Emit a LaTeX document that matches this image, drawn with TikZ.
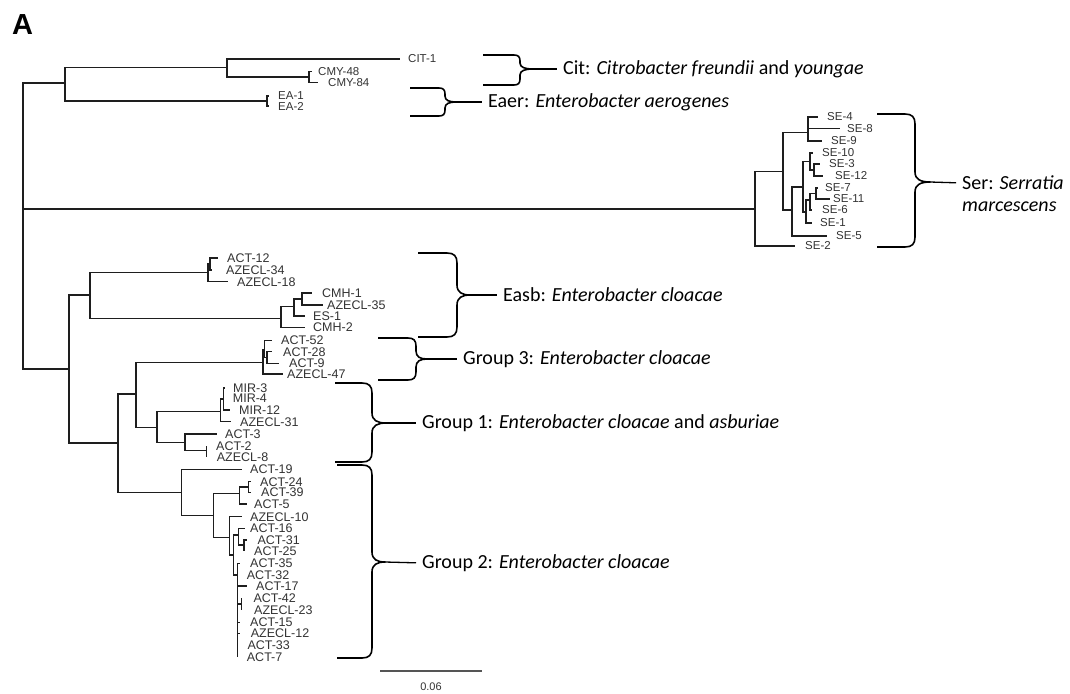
\documentclass[tikz,border=0pt]{standalone}
\usepackage{fontspec}
\setmainfont{Liberation Sans}
\newfontfamily\grpfont{Carlito}
\definecolor{treegray}{HTML}{1E1E1E}
\definecolor{labgray}{HTML}{333333}
\definecolor{scalegray}{HTML}{555555}
\tikzset{
 branch/.style={draw=treegray, line width=1.1pt},
 leaflab/.style={anchor=west, inner sep=0pt, text=labgray, font=\fontsize{12.5}{12.5}\selectfont},
 smalllab/.style={font=\fontsize{11.5}{11.5}\selectfont},
 bracestyle/.style={draw=black, line width=1.6pt, line join=round},
 grplab/.style={anchor=west, inner sep=0pt, font=\grpfont\fontsize{20}{24}\selectfont},
 tipline/.style={draw=black, line width=1.3pt, shorten >=6pt},
}
% leaf: name, xtip, y, xlabel, text
\newcommand{\mkleaf}[5]{\coordinate (#1) at (#2,#3); \node[leaflab] (#1-l) at (#4,#3) {#5};}
\newcommand{\mkleafs}[5]{\coordinate (#1) at (#2,#3); \node[leaflab,smalllab] (#1-l) at (#4,#3) {#5};}
\newcommand{\mkbr}[2]{\draw[branch] (#1) |- (#2);}
% brace: name, xl, yt, yb, xs, xt, ym, r
\newcommand{\mybrace}[8]{%
 \coordinate (#1) at (#6,#7);
 \draw[bracestyle] (#2,#3) -- ({#5-#8},#3) .. controls ({#5-0.3*#8},#3) and (#5,{#3+0.3*#8}) .. (#5,{#3+#8})
   -- (#5,{#7-#8}) .. controls (#5,{#7-0.25*#8}) and ({#5+0.4*(#6-#5)},#7) .. (#6,#7)
   .. controls ({#5+0.4*(#6-#5)},#7) and (#5,{#7+0.25*#8}) .. (#5,{#7+#8})
   -- (#5,{#4-#8}) .. controls (#5,{#4-0.3*#8}) and ({#5-0.3*#8},#4) .. ({#5-#8},#4) -- (#2,#4);
}
\begin{document}
\begin{tikzpicture}[x=1pt,y=-1pt]
\fill[white] (0,0) rectangle (1070,693);
\useasboundingbox (0,0) rectangle (1070,693);

\node[anchor=center, inner sep=0pt, font=\bfseries\fontsize{29}{29}\selectfont] (panelA) at (22.5,24.5) {A};

% ---------- internal nodes ----------
\coordinate (R) at (23,209);
\coordinate (N1) at (65,83);
\coordinate (N2) at (227,67.7);
\coordinate (N3) at (309,77);
\coordinate (N4) at (267,101);

\coordinate (S0) at (755,209);
\coordinate (S1) at (783,171.7);
\coordinate (S2) at (808,132.7);
\coordinate (S3) at (792,210);
\coordinate (S4) at (803,187);
\coordinate (S5) at (810,161.7);
\coordinate (S6) at (814,170);
\coordinate (S7) at (806,212);
\coordinate (S8) at (810,200);
\coordinate (S9) at (816,193.5);

\coordinate (E0) at (69,369);
\coordinate (E1) at (90,295);
\coordinate (A1) at (208,272.7);
\coordinate (A1a) at (210,264);
\coordinate (E2) at (281,318.3);
\coordinate (E3) at (294,306.7);
\coordinate (E4) at (302,299);
\coordinate (E5) at (118,443);
\coordinate (E6) at (136,394);
\coordinate (G3) at (263,362.3);
\coordinate (G3a) at (264.5,350);
\coordinate (G3b) at (267,357.5);
\coordinate (G1) at (157,427.3);
\coordinate (M0) at (220.7,411.7);
\coordinate (M1) at (223.3,399);
\coordinate (G1b) at (185,442.3);
\coordinate (G1c) at (206.7,450.7);
\coordinate (G2) at (181.7,492.3);
\coordinate (G2a) at (213.3,515.3);
\coordinate (N24) at (239.3,493.3);
\coordinate (N24a) at (248.3,487);
\coordinate (G2b) at (229.3,537.3);
\coordinate (G2c) at (233.3,555);
\coordinate (N16) at (238.3,535);
\coordinate (N31) at (244,545);
\coordinate (N35) at (237.5,575);
\coordinate (N42) at (241.7,604);

% ---------- leaves ----------
\mkleafs{cit1}{400}{59}{408}{CIT-1}
\mkleafs{cmy48}{312}{71.7}{318}{CMY-48}
\mkleafs{cmy84}{318}{82.7}{328}{CMY-84}
\mkleafs{ea1}{269}{96}{278}{EA-1}
\mkleafs{ea2}{269}{106}{278}{EA-2}

\mkleafs{se4}{818}{117}{827}{SE-4}
\mkleafs{se8}{840}{128.5}{847}{SE-8}
\mkleafs{se9}{822}{141}{831}{SE-9}
\mkleafs{se10}{813}{153}{822}{SE-10}
\mkleafs{se3}{820}{164}{829}{SE-3}
\mkleafs{se12}{823}{176}{835}{SE-12}
\mkleafs{se7}{818}{188}{825}{SE-7}
\mkleafs{se11}{830}{199}{833}{SE-11}
\mkleafs{se6}{812}{210}{822}{SE-6}
\mkleafs{se1}{812}{223}{820}{SE-1}
\mkleafs{se5}{827}{236}{836}{SE-5}
\mkleafs{se2}{795}{246}{805}{SE-2}

\mkleaf{act12}{218}{258}{227}{ACT-12}
\mkleaf{azecl34}{212}{270}{226}{AZECL-34}
\mkleaf{azecl18}{228}{281.7}{237}{AZECL-18}
\mkleaf{cmh1}{312}{293}{322}{CMH-1}
\mkleaf{azecl35}{323}{305}{327}{AZECL-35}
\mkleaf{es1}{305}{316}{313}{ES-1}
\mkleaf{cmh2}{305}{327.3}{313}{CMH-2}

\mkleaf{act52}{271.7}{340.5}{281}{ACT-52}
\mkleaf{act28}{271.7}{351.7}{283}{ACT-28}
\mkleaf{act9}{279}{363.3}{289}{ACT-9}
\mkleaf{azecl47}{283}{374}{287}{AZECL-47}

\mkleaf{mir3}{225}{388}{233}{MIR-3}
\mkleaf{mir4}{223.3}{398.5}{232.7}{MIR-4}
\mkleaf{mir12}{230}{410}{239}{MIR-12}
\mkleaf{azecl31}{230.7}{421.7}{240}{AZECL-31}
\mkleaf{act3}{216.7}{434}{225}{ACT-3}
\mkleaf{act2}{206.7}{446}{216}{ACT-2}
\mkleaf{azecl8}{206.7}{456.7}{216.7}{AZECL-8}

\mkleaf{act19}{241.7}{469.3}{250}{ACT-19}
\mkleaf{act24}{251}{481.7}{260}{ACT-24}
\mkleaf{act39}{251}{492.3}{261}{ACT-39}
\mkleaf{act5}{246.7}{504}{254}{ACT-5}
\mkleaf{azecl10}{241.7}{516.7}{250}{AZECL-10}
\mkleaf{act16}{245}{528.3}{250}{ACT-16}
\mkleaf{act31}{247.3}{540}{257.3}{ACT-31}
\mkleaf{act25}{244}{550.7}{254}{ACT-25}
\mkleaf{act35}{240}{563.3}{250}{ACT-35}
\mkleaf{act32}{237.5}{575}{246.7}{ACT-32}
\mkleaf{act17}{246.7}{586}{256}{ACT-17}
\mkleaf{act42}{241.7}{597.8}{253.3}{ACT-42}
\mkleaf{azecl23}{241.7}{610.3}{254}{AZECL-23}
\mkleaf{act15}{240}{622.3}{250}{ACT-15}
\mkleaf{azecl12}{240}{633.5}{250.7}{AZECL-12}
\mkleaf{act33}{237.5}{645}{247.3}{ACT-33}
\mkleaf{act7}{237.5}{656.7}{246.7}{ACT-7}

% ---------- branches ----------
\mkbr{R}{N1} \mkbr{R}{S0} \mkbr{R}{E0}
\mkbr{N1}{N2} \mkbr{N1}{N4}
\mkbr{N2}{cit1} \mkbr{N2}{N3}
\mkbr{N3}{cmy48} \mkbr{N3}{cmy84}
\mkbr{N4}{ea1} \mkbr{N4}{ea2}

\mkbr{S0}{S1} \mkbr{S0}{se2}
\mkbr{S1}{S2} \mkbr{S1}{S3}
\mkbr{S2}{se4} \mkbr{S2}{se8} \mkbr{S2}{se9}
\mkbr{S3}{S4} \mkbr{S3}{se5}
\mkbr{S4}{S5} \mkbr{S4}{S7}
\mkbr{S5}{se10} \mkbr{S5}{S6}
\mkbr{S6}{se3} \mkbr{S6}{se12}
\mkbr{S7}{S8} \mkbr{S7}{se1}
\mkbr{S8}{S9} \mkbr{S8}{se6}
\mkbr{S9}{se7} \mkbr{S9}{se11}

\mkbr{E0}{E1} \mkbr{E0}{E5}
\mkbr{E1}{A1} \mkbr{E1}{E2}
\mkbr{A1}{A1a} \mkbr{A1}{azecl18}
\mkbr{A1a}{act12} \mkbr{A1a}{azecl34}
\mkbr{E2}{E3} \mkbr{E2}{cmh2}
\mkbr{E3}{E4} \mkbr{E3}{es1}
\mkbr{E4}{cmh1} \mkbr{E4}{azecl35}

\mkbr{E5}{E6} \mkbr{E5}{G2}
\mkbr{E6}{G3} \mkbr{E6}{G1}
\mkbr{G3}{G3a} \mkbr{G3}{azecl47}
\mkbr{G3a}{act52} \mkbr{G3a}{G3b}
\mkbr{G3b}{act28} \mkbr{G3b}{act9}
\mkbr{G1}{M0} \mkbr{G1}{G1b}
\mkbr{M0}{M1} \mkbr{M0}{azecl31}
\mkbr{M1}{mir3} \mkbr{M1}{mir4} \mkbr{M1}{mir12}
\mkbr{G1b}{act3} \mkbr{G1b}{G1c}
\mkbr{G1c}{act2} \mkbr{G1c}{azecl8}

\mkbr{G2}{act19} \mkbr{G2}{G2a}
\mkbr{G2a}{N24} \mkbr{G2a}{G2b}
\mkbr{N24}{N24a} \mkbr{N24}{act5}
\mkbr{N24a}{act24} \mkbr{N24a}{act39}
\mkbr{G2b}{azecl10} \mkbr{G2b}{G2c}
\mkbr{G2c}{N16} \mkbr{G2c}{N35}
\mkbr{N16}{act16} \mkbr{N16}{N31}
\mkbr{N31}{act31} \mkbr{N31}{act25}
\mkbr{N35}{act35} \mkbr{N35}{act32} \mkbr{N35}{act17} \mkbr{N35}{N42}
\mkbr{N35}{act15} \mkbr{N35}{azecl12} \mkbr{N35}{act33} \mkbr{N35}{act7}
\mkbr{N42}{act42} \mkbr{N42}{azecl23}

% ---------- braces and group labels ----------
\mybrace{citTip}{483}{55}{85}{520}{533}{69}{6}
\node[grplab] (citLab) at (563,69) {Cit: \textit{Citrobacter freundii} and \textit{youngae}};
\draw[tipline] (citTip) -- (citLab.west);

\mybrace{eaerTip}{410}{88}{116}{445}{456}{102}{6}
\node[grplab] (eaerLab) at (488,102) {Eaer: \textit{Enterobacter aerogenes}};
\draw[tipline] (eaerTip) -- (eaerLab.west);

\mybrace{serTip}{877}{114}{247}{915}{930}{182}{10}
\node[grplab] (serLab) at (962,183) {Ser: \textit{Serratia}};
\node[grplab] (serLab2) at (962,207) {\textit{marcescens}};
\draw[tipline] (serTip) -- (serLab.west);

\mybrace{easbTip}{418}{253}{337}{457}{470}{295}{10}
\node[grplab] (easbLab) at (503,295) {Easb: \textit{Enterobacter cloacae}};
\draw[tipline] (easbTip) -- (easbLab.west);

\mybrace{g3Tip}{378}{338}{380}{416}{427}{359}{8}
\node[grplab] (g3Lab) at (463,359) {Group 3: \textit{Enterobacter cloacae}};
\draw[tipline] (g3Tip) -- (g3Lab.west);

\mybrace{g1Tip}{335}{383}{462}{372}{386}{423}{10}
\node[grplab] (g1Lab) at (422,423) {Group 1: \textit{Enterobacter cloacae} and \textit{asburiae}};
\draw[tipline] (g1Tip) -- (g1Lab.west);

\mybrace{g2Tip}{337}{465}{658}{372}{385}{562}{10}
\node[grplab] (g2Lab) at (422,563) {Group 2: \textit{Enterobacter cloacae}};
\draw[tipline] (g2Tip) -- (g2Lab.west);

% ---------- scale bar ----------
\coordinate (sbL) at (380,671);
\coordinate (sbR) at (482,671);
\draw[draw=scalegray, line width=1.1pt] (sbL) -- (sbR);
\node[inner sep=0pt, text=labgray, font=\fontsize{11}{11}\selectfont] (sbLab) at (431,687) {0.06};
\end{tikzpicture}
\end{document}
